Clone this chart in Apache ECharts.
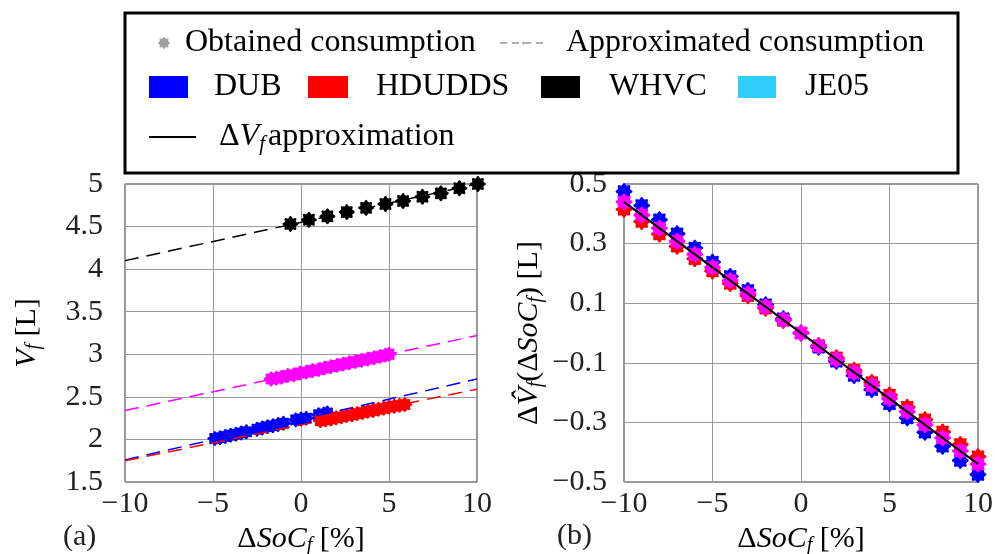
<!DOCTYPE html>
<html>
<head>
<meta charset="utf-8">
<script src="https://cdn.jsdelivr.net/npm/echarts@6/dist/echarts.min.js"></script>
<style>
  html, body { margin: 0; padding: 0; background: #fff; }
  #chart { width: 995px; height: 554px; }
</style>
</head>
<body>
<div id="chart"></div>
<script>
'use strict';

// (a) fuel volume vs final SoC deviation
var whvcSoc = [-0.6, 0.45, 1.5, 2.6, 3.7, 4.8, 5.8, 6.9, 7.95, 9.0, 10.05];
var whvcVol = [4.53, 4.58, 4.62, 4.67, 4.72, 4.765, 4.80, 4.85, 4.89, 4.95, 5.0];
var je05Soc = [-1.7, -1.4, -1.1, -0.75, -0.4, -0.05, 0.3, 0.65, 1.0, 1.35, 1.7, 2.05, 2.4, 2.75, 3.1, 3.45, 3.8, 4.15, 4.5, 4.8, 5.0];
var je05Vol = [2.71, 2.72, 2.73, 2.75, 2.76, 2.78, 2.79, 2.81, 2.82, 2.84, 2.855, 2.87, 2.885, 2.90, 2.915, 2.93, 2.945, 2.96, 2.975, 2.99, 3.0];
var dubSoc = [-4.9, -4.6, -4.3, -4.0, -3.7, -3.4, -3.1, -2.5, -2.2, -1.9, -1.6, -1.3, -1.0, -0.3, 0.0, 0.3, 1.0, 1.3, 1.5];
var dubVol = [2.01, 2.02, 2.035, 2.05, 2.06, 2.075, 2.09, 2.12, 2.135, 2.15, 2.16, 2.175, 2.19, 2.23, 2.24, 2.25, 2.29, 2.30, 2.31];
var hdSoc = [1.1, 1.4, 1.7, 2.0, 2.3, 2.6, 2.9, 3.2, 3.5, 3.8, 4.1, 4.4, 4.7, 5.0, 5.3, 5.6, 5.9];
var hdVol = [2.22, 2.23, 2.24, 2.255, 2.265, 2.28, 2.29, 2.305, 2.315, 2.33, 2.34, 2.355, 2.365, 2.38, 2.39, 2.40, 2.41];

// approximated consumption lines (end points at -10 and 10)
var fitSoc = [-10, 10];
var whvcFit = [4.10, 5.00];
var je05Fit = [2.34, 3.22];
var dubFit = [1.76, 2.71];
var hdFit = [1.75, 2.59];

// (b) volume deviation vs SoC deviation
var socGrid = [-10, -9, -8, -7, -6, -5, -4, -3, -2, -1, 0, 1, 2, 3, 4, 5, 6, 7, 8, 9, 10];
var dubDelta = [0.475, 0.428, 0.38, 0.333, 0.285, 0.238, 0.19, 0.143, 0.095, 0.048, 0, -0.048, -0.095, -0.143, -0.19, -0.238, -0.285, -0.333, -0.38, -0.428, -0.475];
var hdDelta = [0.415, 0.374, 0.332, 0.291, 0.249, 0.208, 0.166, 0.125, 0.083, 0.042, 0, -0.042, -0.083, -0.125, -0.166, -0.208, -0.249, -0.291, -0.332, -0.374, -0.415];
var je05Delta = [0.44, 0.396, 0.352, 0.308, 0.264, 0.22, 0.176, 0.132, 0.088, 0.044, 0, -0.044, -0.088, -0.132, -0.176, -0.22, -0.264, -0.308, -0.352, -0.396, -0.44];
var approxSoc = [-10, 10];
var approxDelta = [0.44, -0.44];

var FONT = 'Liberation Serif';

// scalloped "cog" marker
var cog = (function () {
    var p = [];
    for (var k = 0; k < 64; k++) {
        var t = k / 64 * Math.PI * 2;
        var r = 10 + 1.4 * Math.cos(8 * t);
        p.push((k ? 'L' : 'M') + (r * Math.cos(t)).toFixed(2) + ',' + (r * Math.sin(t)).toFixed(2));
    }
    return 'path://' + p.join(' ') + 'Z';
})();

function pairs(xs, ys) {
    return xs.map(function (x, i) { return [x, ys[i]]; });
}
function minus(v) {
    return String(v).replace('-', '\u2212');
}

var rich = {
    n: { fontFamily: FONT, fontSize: 30, color: '#000' },
    i: { fontFamily: FONT, fontSize: 30, fontStyle: 'italic', color: '#000' },
    s: { fontFamily: FONT, fontSize: 20, fontStyle: 'italic', color: '#000', padding: [14, 0, 0, 0] }
};

function xAxisOf(idx) {
    return {
        gridIndex: idx, type: 'value', min: -10, max: 10, interval: 5,
        name: '{n|\u0394}{i|SoC}{s|f}{n| [%]}', nameLocation: 'middle', nameGap: 38,
        nameTextStyle: { rich: rich },
        axisLine: { show: false }, axisTick: { show: false },
        axisLabel: { fontFamily: FONT, fontSize: 30, color: '#222', margin: 7, formatter: minus },
        splitLine: { lineStyle: { color: '#999', width: 1 } }
    };
}

function dashed(name, ys, color, xi) {
    return {
        name: name, type: 'line', xAxisIndex: xi, yAxisIndex: xi, data: pairs(fitSoc, ys),
        showSymbol: false, silent: true,
        lineStyle: { color: color, width: 1.5, type: [14, 8] }
    };
}
function dots(name, xs, ys, color, xi, size) {
    return {
        name: name, type: 'scatter', xAxisIndex: xi, yAxisIndex: xi, data: pairs(xs, ys),
        symbol: cog, symbolSize: size, clip: false,
        itemStyle: { color: color, opacity: 1 }
    };
}
function dummy(name, type, color, dash) {
    var s = { name: name, type: type, data: [], itemStyle: { color: color, opacity: 1 } };
    if (type === 'line') {
        s.showSymbol = false;
        s.symbol = 'none';
        s.lineStyle = { color: color, width: 2, type: dash ? [7, 5] : 'solid' };
    } else {
        s.symbol = name === 'Obtained consumption' ? cog : 'rect';
    }
    return s;
}

function legendAt(name, left, top, icon, w, h, pad, formatter) {
    var tRich = {
        t: { fontFamily: FONT, fontSize: 32, color: '#000', padding: [0, 0, 0, pad] },
        u: { fontFamily: FONT, fontSize: 32, color: '#000', padding: [0, 0, 0, 3] },
        i: { fontFamily: FONT, fontSize: 32, fontStyle: 'italic', color: '#000' },
        s: { fontFamily: FONT, fontSize: 21, fontStyle: 'italic', color: '#000', padding: [14, 0, 0, 0] }
    };
    return {
        data: [{ name: name, icon: icon }], left: left, top: top, z: 20,
        itemWidth: w, itemHeight: h, selectedMode: false, padding: 0,
        textStyle: { fontFamily: FONT, fontSize: 32, color: '#000', lineHeight: 34, rich: tRich },
        formatter: formatter || function (n) { return '{t|' + n + '}'; }
    };
}

var chart = echarts.init(document.getElementById('chart'));

var options = {
    animation: false,
    backgroundColor: '#fff',
    grid: [
        { left: 125, right: 518, top: 184, bottom: 72, outerBoundsMode: 'none', show: true,
          borderColor: '#333', borderWidth: 1, backgroundColor: 'transparent' },
        { left: 624, right: 17, top: 184, bottom: 72, outerBoundsMode: 'none', show: true,
          borderColor: '#333', borderWidth: 1, backgroundColor: 'transparent' }
    ],
    xAxis: [xAxisOf(0), xAxisOf(1)],
    yAxis: [
        {
            gridIndex: 0, type: 'value', min: 1.5, max: 5, interval: 0.5,
            name: '{i|V}{s|f}{n| [L]}', nameLocation: 'middle', nameGap: 81,
            nameTextStyle: { rich: rich },
            axisLine: { show: false }, axisTick: { show: false },
            axisLabel: { fontFamily: FONT, fontSize: 30, color: '#222', margin: 22, formatter: minus },
            splitLine: { lineStyle: { color: '#999', width: 1 } }
        },
        {
            gridIndex: 1, type: 'value', min: -0.5, max: 0.5, interval: 0.2,
            name: '{n|\u0394}{i|V\u0302}{s|f}{n|(\u0394}{i|SoC}{s|f}{n|) [L]}', nameLocation: 'middle', nameGap: 78,
            nameTextStyle: { rich: rich },
            axisLine: { show: false }, axisTick: { show: false },
            axisLabel: { fontFamily: FONT, fontSize: 30, color: '#222', margin: 17, formatter: minus },
            splitLine: { lineStyle: { color: '#999', width: 1 } }
        }
    ],
    legend: [
        legendAt('Obtained consumption', 158, 26, cog, 12, 12, 10),
        legendAt('Approximated consumption', 499, 26, null, 47, 4, 14),
        legendAt('DUB', 149, 70, 'rect', 39, 22, 21),
        legendAt('HDUDDS', 308, 70, 'rect', 40, 22, 23),
        legendAt('WHVC', 541, 70, 'rect', 39, 22, 24),
        legendAt('JE05', 738, 70, 'rect', 38, 22, 24),
        legendAt('dV approximation', 149, 120, 'rect', 47, 2, 18, function () {
            return '{t|\u0394}{i|V}{s|f}{u|approximation}';
        })
    ],
    graphic: [
        { type: 'rect', z: 10, shape: { x: 125, y: 13, width: 833, height: 160 },
          style: { fill: '#fff', stroke: '#000', lineWidth: 3 } },
        { type: 'text', left: 63, top: 522, style: { text: '(a)', font: '30px "Liberation Serif"', fill: '#222' } },
        { type: 'text', left: 557, top: 521, style: { text: '(b)', font: '30px "Liberation Serif"', fill: '#222' } }
    ],
    series: [
        dummy('Obtained consumption', 'scatter', '#a0a0a0'),
        dummy('Approximated consumption', 'line', '#b0b0b0', true),
        dummy('DUB', 'scatter', '#0000ff'),
        dummy('HDUDDS', 'scatter', '#ff0000'),
        dummy('WHVC', 'scatter', '#000000'),
        dummy('JE05', 'scatter', '#33ccff'),
        dummy('dV approximation', 'scatter', '#000000'),

        dashed('WHVC fit', whvcFit, '#000000', 0),
        dashed('JE05 fit', je05Fit, '#ff00ff', 0),
        dashed('DUB fit', dubFit, '#0000ff', 0),
        dashed('HDUDDS fit', hdFit, '#ff0000', 0),
        dots('WHVC obtained', whvcSoc, whvcVol, '#000000', 0, 16),
        dots('JE05 obtained', je05Soc, je05Vol, '#ff00ff', 0, 15),
        dots('DUB obtained', dubSoc, dubVol, '#0000ff', 0, 15),
        dots('HDUDDS obtained', hdSoc, hdVol, '#ff0000', 0, 15),

        dots('DUB delta', socGrid, dubDelta, '#0000ff', 1, 17),
        dots('HDUDDS delta', socGrid, hdDelta, '#ff0000', 1, 17),
        dots('JE05 delta', socGrid, je05Delta, '#ff00ff', 1, 17),
        {
            name: 'approx', type: 'line', xAxisIndex: 1, yAxisIndex: 1, data: pairs(approxSoc, approxDelta),
            showSymbol: false, silent: true, z: 5,
            lineStyle: { color: '#000', width: 2 }
        }
    ]
};

chart.setOption(options);
window.onresize = function () {
    chart.resize();
};
</script>
</body>
</html>
